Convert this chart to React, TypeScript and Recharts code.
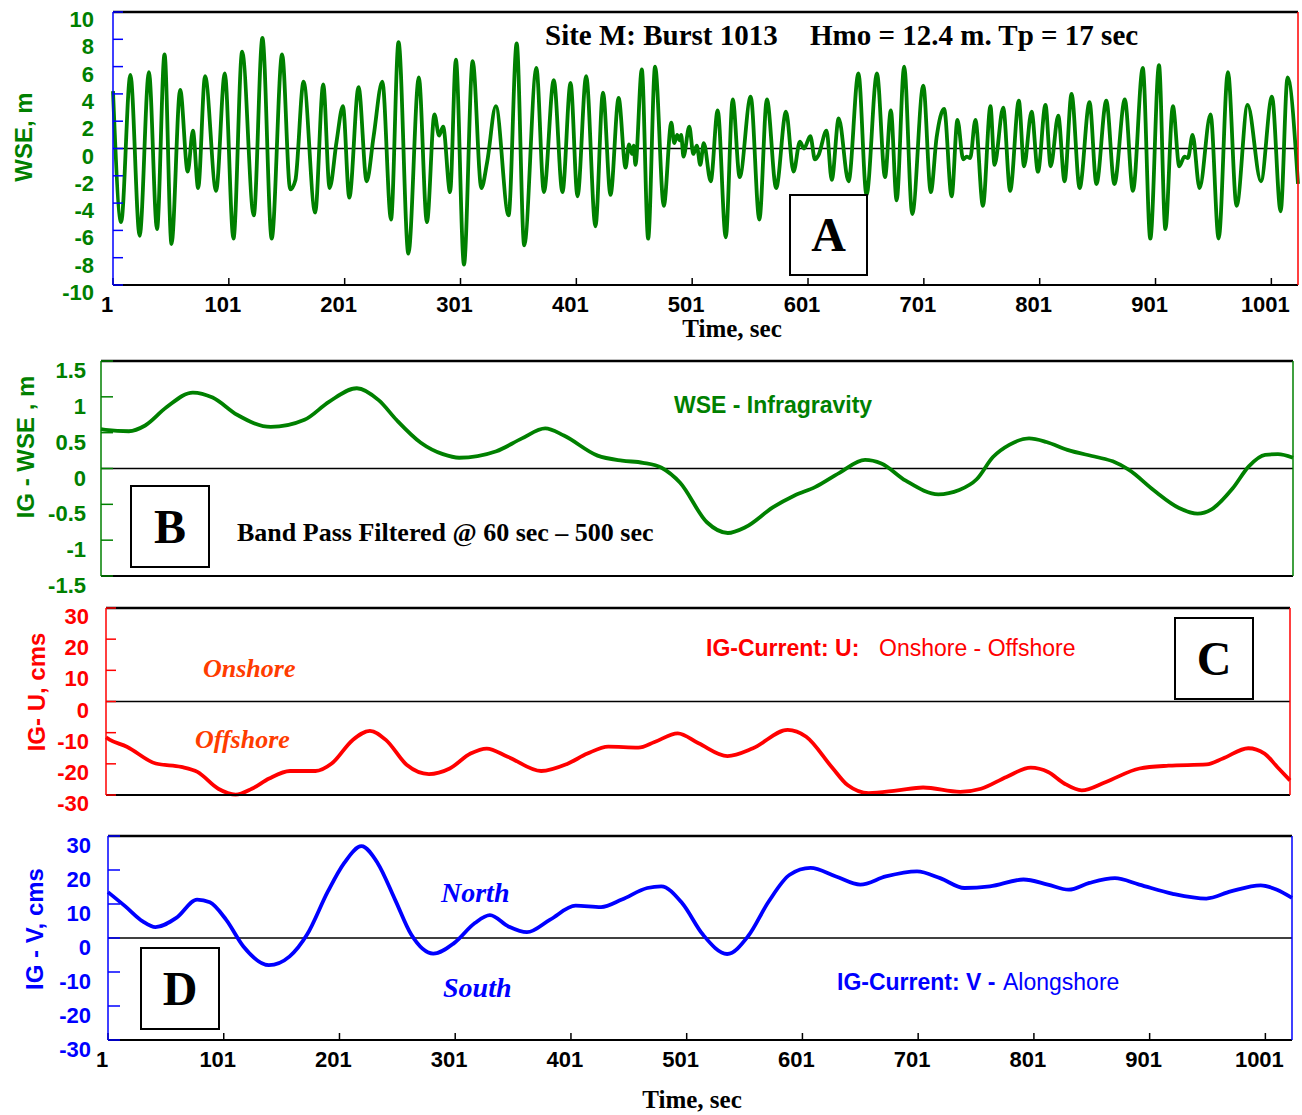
import React from "react";
import { LineChart, Line, XAxis, YAxis, ReferenceLine } from "recharts";

const wseTime = [
  1, 8, 16, 24, 32, 39, 45.5, 51.5, 59, 65.5,
  70, 74.5, 80.5, 90, 97.5, 105, 112.5, 122.5, 130, 138,
  147, 154, 158.5, 165.5, 175.5, 182.5, 188, 194, 199.5, 205,
  213, 220, 226, 233.5, 241, 247.5, 256, 265, 272, 278.5,
  282.5, 286, 292, 297, 304, 311.5, 319, 324, 331.5, 342.5,
  349.5, 356, 366.5, 373, 381.5, 389, 396, 402, 409.5, 417.5,
  424, 430.5, 437.5, 443.5, 446.5, 449, 450.5, 452, 457.5, 463,
  469, 476.5, 483, 485.5, 488, 490, 491.5, 493.5, 498.5, 502,
  505, 508, 511, 517, 523, 530, 536, 542, 551.5, 559,
  565.5, 573.5, 582, 588.5, 594, 597.5, 603, 607, 610, 617,
  621.5, 627.5, 636, 644.5, 651.5, 660.5, 667.5, 672.5, 677.5, 684,
  691, 700.5, 707, 712, 718.5, 725, 730, 735, 738, 741,
  745.5, 752, 758.5, 762, 769.5, 775.5, 783, 787.5, 794, 799.5,
  806, 810.5, 817, 822.5, 828.5, 835.5, 844, 850, 858.5, 865.5,
  874.5, 881.5, 890, 896.5, 904, 909.5, 916, 921.5, 926, 929,
  933, 939, 948.5, 955.5, 963.5, 971, 980.5, 992, 1001.5, 1009,
  1015, 1024,
];
const wseValue = [
  4.2, -5.4, 5.4, -6.4, 5.6, -5.9, 6.9, -7.0, 4.3, -1.7,
  1.3, -2.9, 5.3, -3.1, 5.5, -6.6, 7.1, -4.9, 8.1, -6.6,
  6.9, -3.0, -2.3, 4.9, -4.7, 4.7, -2.9, 0.5, 3.1, -3.6,
  4.5, -2.4, 0.9, 4.9, -5.2, 7.8, -7.7, 5.2, -5.4, 2.5,
  0.95, 1.6, -3.2, 6.5, -8.5, 6.4, -2.9, -1.0, 3.1, -4.9,
  7.7, -7.1, 5.9, -3.2, 5.0, -3.2, 4.8, -3.5, 5.3, -5.7,
  4.1, -3.4, 3.7, -1.4, 0.3, -0.4, 0.2, -1.2, 5.8, -6.6,
  6.0, -4.2, 1.9, 0.4, 1.0, 0.6, 1.0, -0.6, 1.6, -0.4,
  0.2, -1.2, 0.4, -2.4, 2.8, -6.5, 3.6, -2.1, 3.8, -5.2,
  3.6, -2.9, 2.7, -1.7, 0.5, 0.0, 0.9, -0.8, -0.5, 1.3,
  -2.3, 2.2, -2.4, 5.5, -3.4, 5.5, -2.1, 2.8, -3.8, 6.0,
  -4.8, 4.6, -3.2, 0.8, 2.9, -3.5, 2.1, -0.8, -0.6, -0.7,
  2.1, -4.2, 3.1, -1.2, 3.0, -3.1, 3.5, -1.3, 2.7, -1.7,
  3.2, -1.3, 2.4, -2.4, 4.0, -2.9, 3.4, -2.6, 3.5, -2.6,
  3.6, -3.1, 5.9, -6.6, 6.1, -5.9, 3.1, -1.3, -0.6, -0.7,
  1.0, -2.9, 2.5, -6.6, 5.6, -4.2, 3.2, -2.4, 3.8, -4.6,
  5.2, -2.6,
];

// Panel B: infragravity WSE (band pass 60-500 s)
const igTime = [
  1, 5, 25, 39, 57, 80, 97, 118, 147, 176, 197, 221, 240, 255, 276, 295, 309, 341, 363, 383,
  399, 428, 449, 467, 483, 499, 522, 540, 555, 579, 597, 615, 636, 658, 672, 693, 721, 739, 754, 768,
  782, 799, 814, 832, 857, 871, 885, 906, 928, 944, 956, 974, 988, 1002, 1013, 1026,
];
const igValue = [
  0.55, 0.54, 0.52, 0.6, 0.85, 1.06, 0.99, 0.75, 0.58, 0.68, 0.93, 1.12, 0.95, 0.68, 0.36, 0.2, 0.15, 0.24, 0.42, 0.56,
  0.46, 0.18, 0.11, 0.08, 0.01, -0.2, -0.75, -0.9, -0.82, -0.54, -0.38, -0.26, -0.06, 0.12, 0.07, -0.17, -0.36, -0.3, -0.15, 0.16,
  0.33, 0.42, 0.37, 0.26, 0.16, 0.1, -0.02, -0.3, -0.55, -0.63, -0.57, -0.28, 0.03, 0.19, 0.2, 0.15,
];

// Panel C: IG current U (cross-shore)
const uTime = [
  1, 4, 19, 44, 66, 80, 98, 113, 127, 142, 160, 182, 196, 214, 229, 243, 261, 280, 298, 316,
  330, 348, 377, 399, 417, 435, 461, 475, 495, 513, 538, 560, 590, 606, 628, 642, 660, 685, 707, 739,
  757, 779, 800, 815, 829, 844, 865, 894, 919, 952, 966, 988, 1002, 1013, 1024,
];
const uValue = [
  -11.5, -12.2, -14.5, -19.9, -21, -22.6, -28, -29.9, -28, -24.7, -22.3, -22.3, -19.9, -12.4, -9.4, -12.4, -20.4, -23.3, -21.5, -16.7,
  -15.1, -17.7, -22.3, -20.1, -16.7, -14.5, -14.8, -13, -10.2, -13.4, -17.5, -15, -9.1, -11.3, -21, -26.9, -29.4, -28.5, -27.6, -29,
  -28, -24.2, -21.2, -22.6, -26.3, -28.5, -25.8, -21.5, -20.6, -20.2, -18.3, -15, -16.7, -21, -25.3,
];

// Panel D: IG current V (alongshore)
const vTime = [
  1, 16, 31, 42, 60, 78, 89, 103, 118, 140, 158, 173, 191, 205, 220, 234, 249, 263, 282, 300,
  318, 331, 347, 363, 383, 405, 427, 445, 467, 479, 497, 515, 536, 554, 572, 590, 608, 630, 651, 673,
  700, 720, 741, 763, 792, 813, 831, 849, 871, 892, 921, 950, 971, 997, 1011, 1024,
];
const vValue = [
  13.5, 9.3, 4.9, 3.2, 5.9, 11.3, 10.5, 5.4, -2.5, -8, -5.4, 1, 13.7, 22, 27, 22, 11.3, 1, -4.6, -1.5,
  4.4, 6.7, 3.4, 1.7, 5.4, 9.5, 9.1, 11.3, 14.7, 15.2, 10.3, 1, -4.7, 0.5, 10.8, 18.6, 20.6, 18.1, 15.7, 18.1,
  19.6, 17.6, 14.7, 15.2, 17.2, 15.7, 14.2, 16.2, 17.6, 15.7, 13, 11.6, 13.7, 15.5, 14.2, 11.8,
];

const timeTicks = [1, 101, 201, 301, 401, 501, 601, 701, 801, 901, 1001];
const wseTicks = [-10, -8, -6, -4, -2, 0, 2, 4, 6, 8, 10];
const igTicks = [-1.5, -1, -0.5, 0, 0.5, 1, 1.5];
const igRightTicks = [-1.5, -1.2, -0.9, -0.6, -0.3, 0, 0.3, 0.6, 0.9, 1.2, 1.5];
const cmsTicks = [-30, -20, -10, 0, 10, 20, 30];

const GREEN = "#008000";
const RED = "#ff0000";
const BLUE = "#0000ff";
const ORANGE = "#ff3c00";
const sans = "'Liberation Sans', Arial, sans-serif";
const serif = "'Liberation Serif', 'Times New Roman', serif";

const toRows = (t: number[], v: number[]) => t.map((x, i) => ({ t: x, v: v[i] }));

const XTick = (p: any) => (
  <text x={p.x - 6} y={p.y + 15} textAnchor="middle" fontFamily={sans} fontWeight="bold" fontSize={22} fill="#000">
    {p.payload.value}
  </text>
);

type PanelProps = {
  top: number;
  height: number;
  margin: { top: number; right: number; bottom: number; left: number };
  rows: { t: number; v: number }[];
  xMax: number;
  yDomain: [number, number];
  yTicks: number[];
  rightTicks: number[];
  leftColor: string;
  rightColor: string;
  labelColor: string;
  lineColor: string;
  xAxisHeight: number;
  xLabels: boolean;
  leftTick: number;
  labelGap: number;
  labelDy: number;
};

function Panel(p: PanelProps) {
  return (
    <div style={{ position: "absolute", left: 0, top: p.top }}>
      <LineChart width={1302} height={p.height} data={p.rows} margin={p.margin}>
        <XAxis
          dataKey="t"
          type="number"
          domain={[1, p.xMax]}
          ticks={timeTicks}
          interval={0}
          height={p.xAxisHeight}
          axisLine={{ stroke: "#000", strokeWidth: 2 }}
          tickLine={{ stroke: "#000", strokeWidth: 1.5 }}
          tickSize={-7}
          tickMargin={19}
          tick={p.xLabels ? (t: any) => <XTick {...t} /> : false}
        />
        <YAxis
          type="number"
          domain={p.yDomain}
          ticks={p.yTicks}
          interval={0}
          width={60}
          axisLine={{ stroke: p.leftColor, strokeWidth: 1.5 }}
          tickLine={{ stroke: p.leftColor, strokeWidth: 1.5 }}
          tickSize={-p.leftTick}
          tickMargin={p.leftTick + p.labelGap}
          tick={(t: any) => (
            <text
              x={t.x}
              y={t.y + p.labelDy}
              textAnchor="end"
              fontFamily={sans}
              fontWeight="bold"
              fontSize={22}
              fill={p.labelColor}
            >
              {t.payload.value}
            </text>
          )}
        />
        <YAxis
          yAxisId="r"
          orientation="right"
          type="number"
          domain={p.yDomain}
          ticks={p.rightTicks}
          interval={0}
          width={1}
          axisLine={{ stroke: p.rightColor, strokeWidth: 1.5 }}
          tickLine={{ stroke: p.rightColor, strokeWidth: 1.5 }}
          tickSize={-14}
          tick={false}
        />
        <ReferenceLine y={0} stroke="#000" strokeWidth={1.5} />
        <ReferenceLine y={p.yDomain[1]} stroke="#000" strokeWidth={2.5} />
        <Line
          type="monotone"
          dataKey="v"
          stroke={p.lineColor}
          strokeWidth={3.8}
          dot={false}
          isAnimationActive={false}
        />
      </LineChart>
    </div>
  );
}

function Box({ x, y, w, h, letter }: { x: number; y: number; w: number; h: number; letter: string }) {
  return (
    <g>
      <rect x={x} y={y} width={w} height={h} fill="#fff" stroke="#000" strokeWidth={2} />
      <text x={x + w / 2} y={y + h / 2 + 16} textAnchor="middle" fontFamily={serif} fontWeight="bold" fontSize={48}>
        {letter}
      </text>
    </g>
  );
}

export default function App() {
  return (
    <div style={{ position: "absolute", left: 0, top: 0, width: 1302, height: 1115, background: "#fff" }}>
      <Panel
        top={0}
        height={340}
        margin={{ top: 12, right: 3, bottom: 25, left: 53 }}
        rows={toRows(wseTime, wseValue)}
        xMax={1024}
        yDomain={[-10, 10]}
        yTicks={wseTicks}
        rightTicks={wseTicks}
        leftColor={BLUE}
        rightColor={RED}
        labelColor={GREEN}
        lineColor={GREEN}
        xAxisHeight={30}
        xLabels
        leftTick={10}
        labelGap={19}
        labelDy={15}
      />
      <Panel
        top={350}
        height={250}
        margin={{ top: 11, right: 8, bottom: 14, left: 41 }}
        rows={toRows(igTime, igValue)}
        xMax={1026}
        yDomain={[-1.5, 1.5]}
        yTicks={igTicks}
        rightTicks={igRightTicks}
        leftColor={GREEN}
        rightColor={GREEN}
        labelColor={GREEN}
        lineColor={GREEN}
        xAxisHeight={10}
        xLabels={false}
        leftTick={12}
        labelGap={15}
        labelDy={17}
      />
      <Panel
        top={600}
        height={220}
        margin={{ top: 8, right: 11, bottom: 17, left: 46 }}
        rows={toRows(uTime, uValue)}
        xMax={1024}
        yDomain={[-30, 30]}
        yTicks={cmsTicks}
        rightTicks={cmsTicks}
        leftColor={RED}
        rightColor={RED}
        labelColor={RED}
        lineColor={RED}
        xAxisHeight={8}
        xLabels={false}
        leftTick={10}
        labelGap={17}
        labelDy={16}
      />
      <Panel
        top={825}
        height={290}
        margin={{ top: 11, right: 9, bottom: 35, left: 48 }}
        rows={toRows(vTime, vValue)}
        xMax={1024}
        yDomain={[-30, 30]}
        yTicks={cmsTicks}
        rightTicks={cmsTicks}
        leftColor={BLUE}
        rightColor={BLUE}
        labelColor={BLUE}
        lineColor={BLUE}
        xAxisHeight={40}
        xLabels
        leftTick={12}
        labelGap={17}
        labelDy={17}
      />
      <svg
        width={1302}
        height={1115}
        style={{ position: "absolute", left: 0, top: 0, pointerEvents: "none" }}
      >
        {/* panel A */}
        <text x={545} y={45} fontFamily={serif} fontWeight="bold" fontSize={29}>Site M: Burst 1013</text>
        <text x={810} y={45} fontFamily={serif} fontWeight="bold" fontSize={29}>Hmo = 12.4 m. Tp = 17 sec</text>
        <Box x={790} y={195} w={77} h={80} letter="A" />
        <text x={732} y={337} textAnchor="middle" fontFamily={serif} fontWeight="bold" fontSize={25}>Time, sec</text>
        <text x={32} y={137} transform="rotate(-90 32 137)" textAnchor="middle" fontFamily={sans} fontWeight="bold" fontSize={24} fill={GREEN}>WSE, m</text>

        {/* panel B */}
        <text x={674} y={413} fontFamily={sans} fontWeight="bold" fontSize={23} fill={GREEN}>WSE - Infragravity</text>
        <text x={237} y={541} fontFamily={serif} fontWeight="bold" fontSize={26}>Band Pass Filtered @ 60 sec – 500 sec</text>
        <Box x={131} y={486} w={78} h={81} letter="B" />
        <text x={34} y={447} transform="rotate(-90 34 447)" textAnchor="middle" fontFamily={sans} fontWeight="bold" fontSize={24} fill={GREEN}>IG - WSE , m</text>

        {/* panel C */}
        <text x={203} y={677} fontFamily={serif} fontWeight="bold" fontStyle="italic" fontSize={26} fill={ORANGE}>Onshore</text>
        <text x={195} y={748} fontFamily={serif} fontWeight="bold" fontStyle="italic" fontSize={26} fill={ORANGE}>Offshore</text>
        <text x={706} y={656} fontFamily={sans} fontWeight="bold" fontSize={23} fill={RED}>IG-Current: U:</text>
        <text x={879} y={656} fontFamily={sans} fontSize={23} fill={RED}>Onshore - Offshore</text>
        <Box x={1175} y={618} w={78} h={81} letter="C" />
        <text x={45} y={692} transform="rotate(-90 45 692)" textAnchor="middle" fontFamily={sans} fontWeight="bold" fontSize={24} fill={RED}>IG- U, cms</text>

        {/* panel D */}
        <text x={441} y={902} fontFamily={serif} fontWeight="bold" fontStyle="italic" fontSize={28} fill={BLUE}>North</text>
        <text x={443} y={997} fontFamily={serif} fontWeight="bold" fontStyle="italic" fontSize={28} fill={BLUE}>South</text>
        <text x={837} y={990} fontFamily={sans} fontWeight="bold" fontSize={23} fill={BLUE}>IG-Current: V -</text>
        <text x={1003} y={990} fontFamily={sans} fontSize={23} fill={BLUE}>Alongshore</text>
        <Box x={141} y={948} w={78} h={81} letter="D" />
        <text x={692} y={1108} textAnchor="middle" fontFamily={serif} fontWeight="bold" fontSize={25}>Time, sec</text>
        <text x={43} y={929} transform="rotate(-90 43 929)" textAnchor="middle" fontFamily={sans} fontWeight="bold" fontSize={24} fill={BLUE}>IG - V, cms</text>
      </svg>
    </div>
  );
}
